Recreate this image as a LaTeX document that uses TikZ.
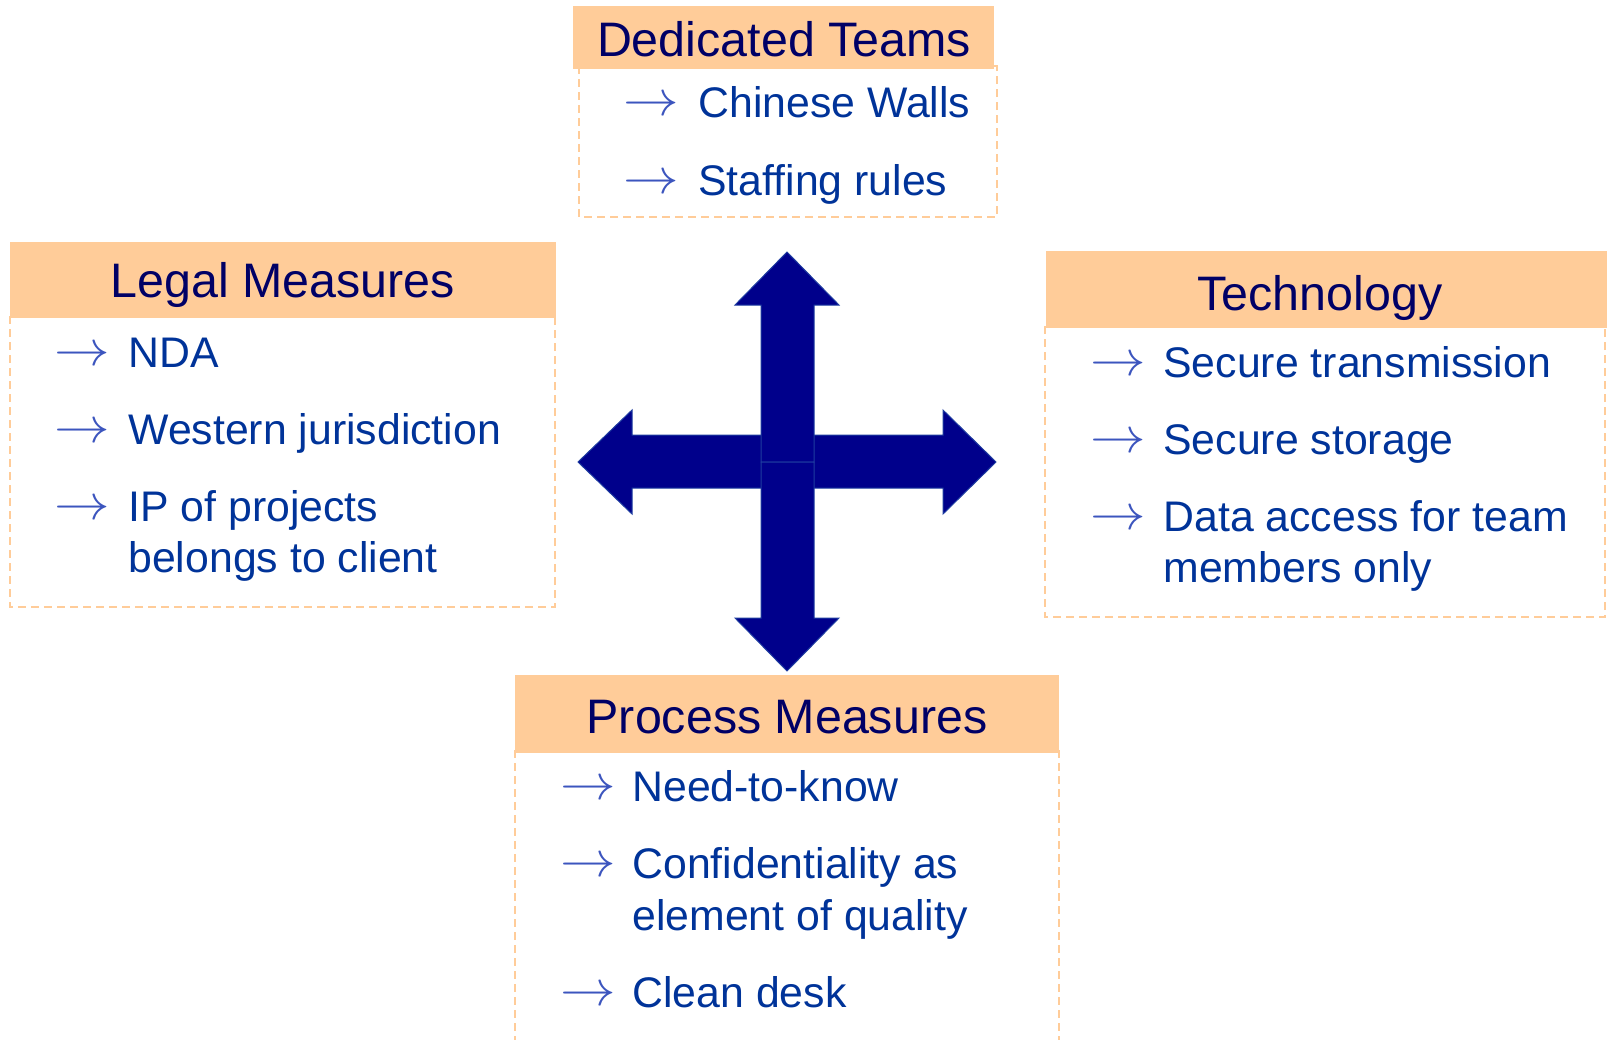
\documentclass[tikz,border=0pt]{standalone}
\usepackage{fontspec}
\setmainfont{Liberation Sans}
\definecolor{peach}{RGB}{255,204,153}
\definecolor{headtext}{RGB}{0,0,102}
\definecolor{itemtext}{RGB}{0,51,153}
\definecolor{bulletblue}{RGB}{60,85,190}
\definecolor{crossfill}{RGB}{0,0,139}
\definecolor{crossedge}{RGB}{30,60,160}
\newcommand{\itemarrow}{\raisebox{0.8pt}{\scalebox{1.34}[1.2]{$\rightarrow$}}}

\begin{document}
\begin{tikzpicture}[x=0.5pt,y=-0.5pt,
  header/.style={fill=peach},
  frame/.style={draw=peach, line width=1pt, dash pattern=on 4pt off 2.5pt},
  title/.style={anchor=base, inner sep=0pt, text=headtext, font=\fontsize{24.2}{29}\selectfont},
  entry/.style={anchor=base west, inner sep=0pt, text=itemtext, font=\fontsize{21.4}{25.5}\selectfont},
  bullet/.style={anchor=base west, inner sep=0pt, text=bulletblue, font=\fontsize{21}{25.5}\selectfont},
  cross/.style={fill=crossfill, draw=crossedge, line width=0.5pt, line join=miter}]

\useasboundingbox (0,0) rectangle (1607,1040);

% ---- dashed frames (drawn first, headers sit on top) ----
\draw[frame] (579,66) rectangle (997,217);
\draw[frame] (10,316) rectangle (555,607);
\draw[frame] (1045,326) rectangle (1605,617);
\draw[frame] (515,750) -- (515,1040);
\draw[frame] (1059,750) -- (1059,1040);

% ---- header bars ----
\fill[header] (573,6) rectangle (994,69);
\fill[header] (10,242) rectangle (556,318);
\fill[header] (1046,251) rectangle (1607,328);
\fill[header] (515,675) rectangle (1059,753);

% ---- titles ----
\node[title] (tTeams) at (784,56) {Dedicated Teams};
\node[title] (tLegal) at (283,297) {Legal Measures};
\node[title] (tTech)  at (1320,310) {Technology};
\node[title] (tProc)  at (787,733) {Process Measures};

% ---- Dedicated Teams items ----
\node[bullet] (bT1) at (623,117) {\itemarrow};
\node[entry]  (eT1) at (698,117) {Chinese Walls};
\node[bullet] (bT2) at (623,195) {\itemarrow};
\node[entry]  (eT2) at (698,195) {Staffing rules};

% ---- Legal Measures items ----
\node[bullet] (bL1) at (54,367) {\itemarrow};
\node[entry]  (eL1) at (128,367) {NDA};
\node[bullet] (bL2) at (54,444) {\itemarrow};
\node[entry]  (eL2) at (128,444) {Western jurisdiction};
\node[bullet] (bL3) at (54,521) {\itemarrow};
\node[entry]  (eL3) at (128,521) {IP of projects};
\node[entry]  (eL3b) at (128,572) {belongs to client};

% ---- Technology items ----
\node[bullet] (bC1) at (1090,377) {\itemarrow};
\node[entry]  (eC1) at (1163,377) {Secure transmission};
\node[bullet] (bC2) at (1090,454) {\itemarrow};
\node[entry]  (eC2) at (1163,454) {Secure storage};
\node[bullet] (bC3) at (1090,531) {\itemarrow};
\node[entry]  (eC3) at (1163,531) {Data access for team};
\node[entry]  (eC3b) at (1163,582) {members only};

% ---- Process Measures items ----
\node[bullet] (bP1) at (560,801) {\itemarrow};
\node[entry]  (eP1) at (632,801) {Need-to-know};
\node[bullet] (bP2) at (560,878) {\itemarrow};
\node[entry]  (eP2) at (632,878) {Confidentiality as};
\node[entry]  (eP2b) at (632,930) {element of quality};
\node[bullet] (bP3) at (560,1007) {\itemarrow};
\node[entry]  (eP3) at (632,1007) {Clean desk};

% ---- central four-way arrow ----
\path[cross] (578,462) -- (632,410) -- (632,435) -- (943,435) -- (943,410)
  -- (996,462) -- (943,514) -- (943,488) -- (632,488) -- (632,514) -- cycle;
\path[cross] (787,252) -- (839,305) -- (814,305) -- (814,462) -- (761,462)
  -- (761,305) -- (735,305) -- cycle;
\path[cross] (787,671) -- (839,618) -- (814,618) -- (814,462) -- (761,462)
  -- (761,618) -- (735,618) -- cycle;
\end{tikzpicture}
\end{document}
